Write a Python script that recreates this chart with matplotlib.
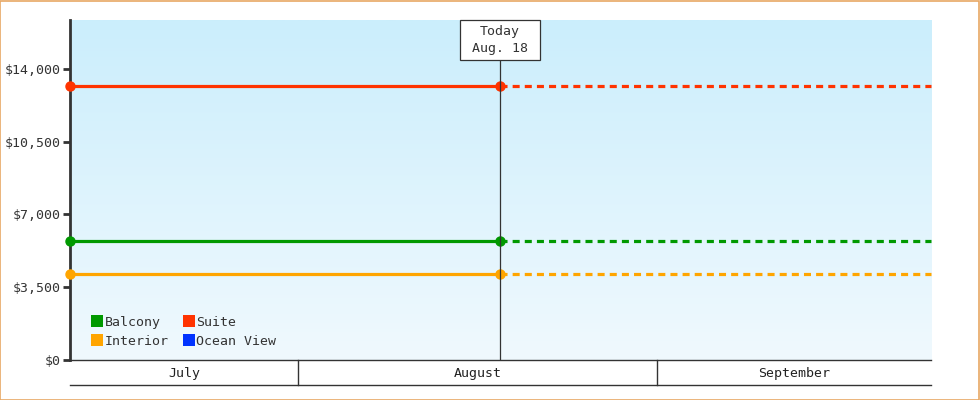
import matplotlib
matplotlib.use("Agg")
import matplotlib.pyplot as plt
import numpy as np
from matplotlib.lines import Line2D
from matplotlib.patches import Rectangle
from matplotlib.colors import LinearSegmentedColormap
import matplotlib.transforms as mtransforms

# ---- data (x in days relative to Aug 1) ----
series_names = ["Balcony", "Suite", "Interior", "Ocean View"]
series_colors = ["#009900", "#ff3300", "#ffa500", "#0033ff"]
series_values = [5700, 13200, 4150, None]   # Ocean View has no data
x_start = -19.7          # ~July 12
x_end = 54.66            # ~Sept 24
today_x = 17.44          # Aug 18
today_label = "Today\nAug. 18"
months = ["July", "August", "September"]
month_bounds = [-19.7, 0, 31, 54.66]
y_ticks = [0, 3500, 7000, 10500, 14000]
y_max = 16350

plt.rcParams['font.family'] = ['DejaVu Sans Mono']
fig = plt.figure(figsize=(9.8, 4.0), dpi=100)
fig.patch.set_facecolor("white")
fig.add_artist(Rectangle((0.0005, 0.001), 0.998, 0.997, transform=fig.transFigure,
                         fill=False, edgecolor="#e8a865", linewidth=1.2))

ax = fig.add_axes([70/980, 40/400, 861/980, 340/400])
ax.set_xlim(x_start, x_end)
ax.set_ylim(0, y_max)

grad = np.linspace(0, 1, 256).reshape(-1, 1)
cmap = LinearSegmentedColormap.from_list("bg", ["#f0f9fe", "#cbeefc"])
ax.imshow(grad, extent=[x_start, x_end, 0, y_max], origin="lower", aspect="auto",
          cmap=cmap, zorder=0, interpolation="bilinear")

for name, col, val in zip(series_names, series_colors, series_values):
    if val is None:
        continue
    ax.plot([x_start, today_x], [val, val], color=col, lw=2.3, zorder=3, solid_capstyle="butt",
            clip_on=False)
    ax.plot([today_x, x_end], [val, val], color=col, lw=2.3, ls=(0, (2.2, 1.6)), zorder=3,
            clip_on=False)
    ax.plot([x_start, today_x], [val, val], ls="none", marker="o", ms=6.5, color=col,
            zorder=4, clip_on=False)

# today line and label box
px = y_max / 340
ax.plot([today_x, today_x], [0, (360 - 60) * px], color="#333333", lw=0.9, zorder=5)
box_w_days = 80 / 861 * (x_end - x_start)
ax.add_patch(Rectangle((today_x - box_w_days / 2, (360 - 60) * px), box_w_days, 40 * px,
                       facecolor="white", edgecolor="#333333", lw=0.9, zorder=6, clip_on=False))
ax.text(today_x, (360 - 40) * px, today_label, ha="center", va="center",
        fontsize=9.5, color="#333333", linespacing=1.4, zorder=7)

for s in ["top", "right"]:
    ax.spines[s].set_visible(False)
ax.spines["left"].set_color("#333333")
ax.spines["left"].set_linewidth(2)
ax.spines["bottom"].set_color("#333333")
ax.spines["bottom"].set_linewidth(1)
ax.set_yticks(y_ticks)
ax.set_yticklabels(["$" + format(v, ",") for v in y_ticks])
ax.tick_params(axis="y", length=5, width=2, color="#333333", labelsize=9.5,
               labelcolor="#333333", pad=2)
ax.set_xticks([])

trans = mtransforms.blended_transform_factory(ax.transData, ax.transAxes)
band_bottom = -25 / 340
ax.plot([x_start, x_end], [band_bottom, band_bottom], transform=trans, color="#333333",
        lw=1, clip_on=False)
for b in month_bounds[1:-1]:
    ax.plot([b, b], [0, band_bottom], transform=trans, color="#333333", lw=1, clip_on=False)
for i, m in enumerate(months):
    ax.text((month_bounds[i] + month_bounds[i + 1]) / 2, -13 / 340, m, transform=trans,
            ha="center", va="center", fontsize=9.5, color="#222222")

# legend: row-major order (Balcony, Suite / Interior, Ocean View)
order = [0, 2, 1, 3]
handles = [Line2D([], [], ls="none", marker="s", ms=8, color=series_colors[i],
                  markeredgewidth=0) for i in order]
labels = [series_names[i] for i in order]
ax.legend(handles, labels, loc="lower left", ncol=2, frameon=False, fontsize=9.5,
          handletextpad=0.05, columnspacing=1.05, labelspacing=0.45,
          bbox_to_anchor=(0.018, 0.02), borderaxespad=0, handlelength=1.0,
          labelcolor="#333333")

fig.savefig("out.png", dpi=100)
